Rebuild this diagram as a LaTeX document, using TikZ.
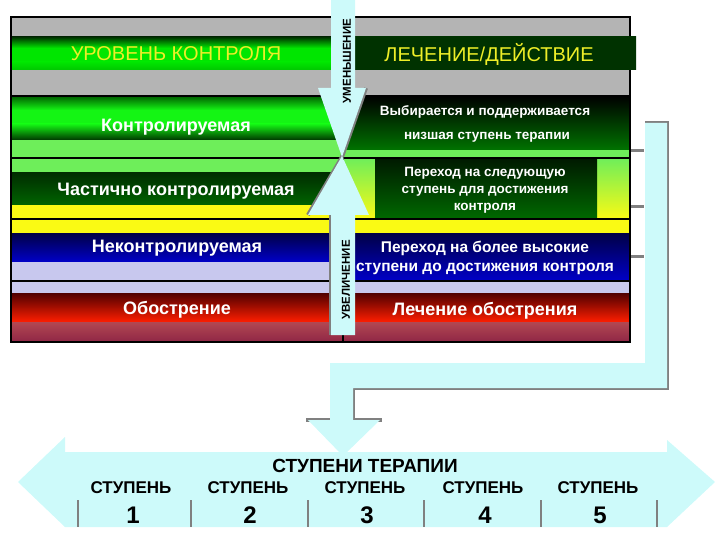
\documentclass[tikz,border=0pt]{standalone}
\usepackage{fontspec}
\setmainfont{Liberation Sans}
\definecolor{hdrgray}{RGB}{180,180,180}
\definecolor{lgreen}{RGB}{110,238,90}
\definecolor{yel}{RGB}{250,250,20}
\definecolor{lav}{RGB}{200,200,238}
\definecolor{cyanl}{RGB}{205,250,250}
\definecolor{shgray}{RGB}{128,128,128}
\definecolor{ytxt}{RGB}{238,238,40}
\definecolor{dg1}{RGB}{0,50,0}
\definecolor{bg1}{RGB}{0,230,0}
\definecolor{bg2}{RGB}{0,200,0}
\definecolor{dg2}{RGB}{0,95,0}
\definecolor{bg3}{RGB}{20,245,20}
\definecolor{dg2b}{RGB}{0,55,0}
\definecolor{dg3}{RGB}{0,45,0}
\definecolor{dg4}{RGB}{0,100,0}
\definecolor{mg1}{RGB}{0,120,0}
\definecolor{mg2}{RGB}{0,115,0}
\definecolor{db1}{RGB}{0,0,70}
\definecolor{bb1}{RGB}{0,0,215}
\definecolor{bb2}{RGB}{0,0,200}
\definecolor{dr1}{RGB}{80,0,0}
\definecolor{br1}{RGB}{255,30,0}
\definecolor{pk1}{RGB}{178,72,82}
\definecolor{pk2}{RGB}{145,40,70}
\definecolor{dg5}{RGB}{0,25,0}
\definecolor{dg6}{RGB}{0,105,0}
\begin{document}
\begin{tikzpicture}[x=1pt,y=-1pt,
  lefttxt/.style={text=white,font=\bfseries\fontsize{18}{21}\selectfont,inner sep=0pt},
  hdrtxt/.style={text=ytxt,font=\fontsize{20}{24}\selectfont,inner sep=0pt},
  righttxt/.style={text=white,font=\bfseries\fontsize{13.5}{16}\selectfont,inner sep=0pt,align=center},
  arrtxt/.style={text=black,font=\bfseries\fontsize{11.5}{13}\selectfont,inner sep=0pt,rotate=90},
  stuptxt/.style={text=black,font=\bfseries\fontsize{17}{19}\selectfont,inner sep=0pt},
  numtxt/.style={text=black,font=\bfseries\fontsize{24}{28}\selectfont,inner sep=0pt},
  shadowline/.style={draw=shgray,line width=4pt},
  tick/.style={draw=shgray,line width=2pt},
  blackline/.style={draw=black,line width=2.5pt}]
\useasboundingbox (0,0) rectangle (720,540);

% ---------- bottom double arrow ----------
\fill[cyanl] (18,482) -- (65,437) -- (65,452) -- (667,452) -- (667,440) -- (715,482) -- (667,527) -- (65,527) -- cycle;
\foreach \xx in {78,191,308,424,541,657} \draw[tick] (\xx,500) -- (\xx,527);

% ---------- L-shaped arrow ----------
\draw[shadowline] (645,123) -- (667,123) -- (667,388) -- (353,388) -- (353,420) -- (382,420);
\draw[shadowline] (306,420) -- (330,420);
\fill[cyanl] (645,123) -- (667,123) -- (667,388) -- (353,388) -- (353,420) -- (380,420) -- (343,456) -- (308,420) -- (330,420) -- (330,363) -- (645,363) -- cycle;
\foreach \yy in {151,207,256} \draw[draw=shgray,line width=3pt] (630,\yy) -- (644,\yy);

% ---------- header area ----------
\fill[hdrgray] (11,17) rectangle (630,96);
\fill[bg1] (11,37) rectangle (333,70);
\shade[top color=dg1,bottom color=bg1] (11,37) rectangle (333,48);
\shade[top color=bg1,bottom color=bg2] (11,62) rectangle (333,70);

% ---------- left rows ----------
\fill[bg3] (11,96) rectangle (343,140);
\shade[top color=dg2,bottom color=bg3] (11,96) rectangle (343,110);
\shade[top color=bg3,bottom color=dg2b] (11,124) rectangle (343,140);
\fill[lgreen] (11,140) rectangle (343,173);
\shade[top color=dg3,bottom color=dg4] (11,173) rectangle (343,205);
\fill[yel] (11,205) rectangle (343,233);
\shade[top color=db1,middle color=bb1,bottom color=bb2] (11,233) rectangle (343,262);
\fill[lav] (11,262) rectangle (343,293);
\shade[top color=dr1,bottom color=br1] (11,293) rectangle (343,322);
\shade[top color=pk1,bottom color=pk2] (11,322) rectangle (343,341);

% ---------- right rows ----------
\shade[top color=black,bottom color=mg2] (343,96) rectangle (630,150);
\fill[lgreen] (343,150) rectangle (630,158);
\shade[top color=lgreen,bottom color=yel] (343,158) rectangle (630,219);
\shade[top color=dg5,bottom color=dg6] (375,158) rectangle (597,219);
\fill[yel] (343,219) rectangle (630,233);
\shade[top color=db1,middle color=bb1,bottom color=bb2] (343,233) rectangle (630,281);
\fill[lav] (343,281) rectangle (630,293);
\shade[top color=dr1,bottom color=br1] (343,293) rectangle (630,322);
\shade[top color=pk1,bottom color=pk2] (343,322) rectangle (630,341);

% ---------- lines and frame ----------
\foreach \yy in {96,158,219,281} \draw[blackline] (11,\yy) -- (630,\yy);
\draw[draw=black,line width=2pt] (343,17) -- (343,342);
\draw[draw=black,line width=2.5pt] (11,17) rectangle (630,342);
\shade[top color=dg1,middle color=mg1,bottom color=dg1] (352,37) rectangle (636,70);

% ---------- central arrows ----------
\draw[shadowline] (366,88) -- (342,157);
\fill[cyanl] (331,0) -- (355,0) -- (355,88) -- (366,88) -- (342,157) -- (318,88) -- (331,88) -- cycle;
\draw[shadowline] (331,335) -- (331,215);
\draw[shadowline] (308,215) -- (342,157);
\fill[cyanl] (331,335) -- (355,335) -- (355,215) -- (369,215) -- (342,156) -- (308,215) -- (331,215) -- cycle;
\node[arrtxt] (dec) at (347,61) {УМЕНЬШЕНИЕ};
\node[arrtxt] (inc) at (346,280) {УВЕЛИЧЕНИЕ};

% ---------- texts ----------
\node[hdrtxt] (lvl) at (176,54) {УРОВЕНЬ КОНТРОЛЯ};
\node[hdrtxt] (trt) at (489,54) {ЛЕЧЕНИЕ/ДЕЙСТВИЕ};
\node[lefttxt] (l1) at (176,127) {Контролируемая};
\node[lefttxt] (l2) at (176,191) {Частично контролируемая};
\node[lefttxt] (l3) at (177,248) {Неконтролируемая};
\node[lefttxt] (l4) at (177,310) {Обострение};
\node[righttxt] (r1a) at (485,112) {Выбирается и поддерживается};
\node[righttxt] (r1b) at (487,137) {низшая ступень терапии};
\node[righttxt,font=\bfseries\fontsize{13.5}{17}\selectfont] (r2) at (485,190) {Переход на следующую\\ступень для достижения\\контроля};
\node[righttxt,font=\bfseries\fontsize{15.5}{19.5}\selectfont] (r3) at (485,258) {Переход на более высокие\\ступени до достижения контроля};
\node[righttxt,font=\bfseries\fontsize{18}{21}\selectfont] (r4) at (485,311) {Лечение обострения};

\node[text=black,font=\bfseries\fontsize{19}{22}\selectfont,inner sep=0pt] (title) at (365,466) {СТУПЕНИ ТЕРАПИИ};
\foreach \xx/\n [count=\i] in {131/1,248/2,365/3,483/4,598/5} {
  \node[stuptxt] (s\i) at (\xx,488) {СТУПЕНЬ};
  \node[numtxt] (n\i) at (\xx+2,515) {\n};
}
\end{tikzpicture}
\end{document}
